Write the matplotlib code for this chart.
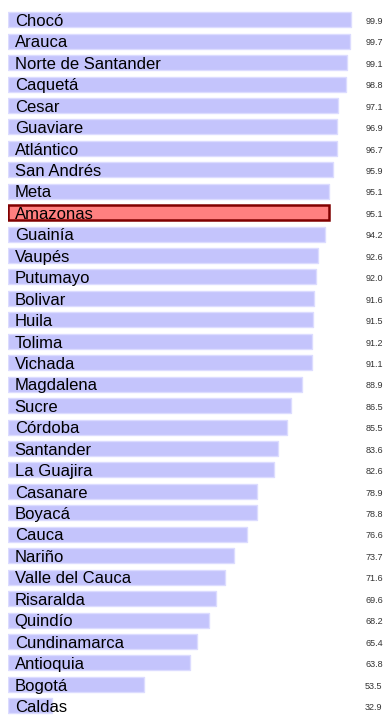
import matplotlib.pyplot as plt

# coverage by department, sorted high to low
departments = ["Chocó", "Arauca", "Norte de Santander", "Caquetá", "Cesar", "Guaviare",
               "Atlántico", "San Andrés", "Meta", "Amazonas", "Guainía", "Vaupés",
               "Putumayo", "Bolivar", "Huila", "Tolima", "Vichada", "Magdalena", "Sucre",
               "Córdoba", "Santander", "La Guajira", "Casanare", "Boyacá", "Cauca",
               "Nariño", "Valle del Cauca", "Risaralda", "Quindío", "Cundinamarca",
               "Antioquia", "Bogotá", "Caldas"]
values = [99.9, 99.7, 99.1, 98.8, 97.1, 96.9, 96.7, 95.9, 95.1, 95.1, 94.2, 92.6,
          92.0, 91.6, 91.5, 91.2, 91.1, 88.9, 86.5, 85.5, 83.6, 82.6, 78.9, 78.8,
          76.6, 73.7, 71.6, 69.6, 68.2, 65.4, 63.8, 53.5, 32.9]
highlight = "Amazonas"

plt.rcParams['font.family'] = ['Liberation Sans', 'DejaVu Sans']

fig = plt.figure(figsize=(3.84, 7.15), dpi=100)
ax = fig.add_axes([8 / 384, 0, 376 / 384, 1])

lo = min(values) * 0.7
n = len(values)
for i, (name, v) in enumerate(zip(departments, values)):
    if name == highlight:
        ax.barh(i, v - lo, left=lo, height=0.7, color='#ff8080',
                edgecolor='#800000', linewidth=1.8, zorder=3)
    else:
        ax.barh(i, v - lo, left=lo, height=0.7, color='#c4c4fc',
                edgecolor='#dcdcff', linewidth=1.0)
    ax.text(lo + 1.5, i + 0.08, name, ha='left', va='center', fontsize=12,
            color='black', zorder=4)
    ax.text(103.1, i + 0.08, f"{v:.1f}", ha='left', va='center', fontsize=6.5,
            color='#333333')

ax.set_xlim(lo, lo + 84.3)
ax.set_ylim(n - 1 + 0.43, -0.92)
ax.axis('off')

fig.savefig('out.png', dpi=100)
